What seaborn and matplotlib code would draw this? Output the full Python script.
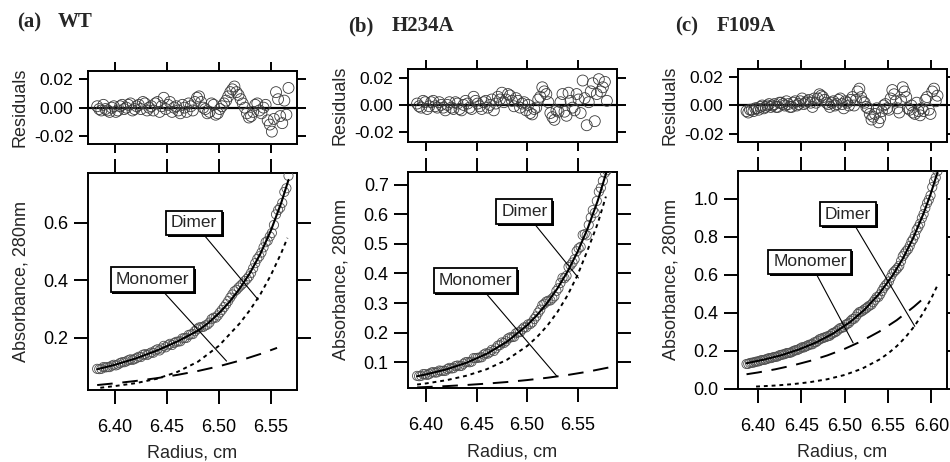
import matplotlib
matplotlib.use("Agg")
import matplotlib.pyplot as plt
import matplotlib.patheffects as pe
from matplotlib.ticker import FormatStrFormatter
import seaborn as sns

# ---- WT ----
wt_radius = [6.383, 6.385, 6.387, 6.389, 6.391, 6.393, 6.395, 6.397, 6.399, 6.401,
             6.403, 6.405, 6.407, 6.409, 6.411, 6.413, 6.415, 6.417, 6.419, 6.421,
             6.423, 6.425, 6.427, 6.429, 6.431, 6.433, 6.435, 6.437, 6.439, 6.441,
             6.443, 6.445, 6.447, 6.449, 6.451, 6.453, 6.455, 6.457, 6.459, 6.461,
             6.463, 6.465, 6.467, 6.469, 6.471, 6.473, 6.475, 6.477, 6.479, 6.481,
             6.483, 6.485, 6.487, 6.489, 6.491, 6.493, 6.495, 6.497, 6.499, 6.501,
             6.503, 6.505, 6.507, 6.509, 6.511, 6.513, 6.515, 6.517, 6.519, 6.521,
             6.523, 6.525, 6.527, 6.529, 6.531, 6.533, 6.535, 6.537, 6.539, 6.541,
             6.543, 6.545, 6.547, 6.549, 6.551, 6.553, 6.555, 6.557, 6.559, 6.561,
             6.563, 6.565, 6.567]
wt_absorb = [0.092, 0.091, 0.092, 0.098, 0.097, 0.098, 0.098, 0.103, 0.106, 0.104,
             0.107, 0.112, 0.115, 0.115, 0.118, 0.122, 0.125, 0.123, 0.126, 0.130,
             0.134, 0.133, 0.141, 0.143, 0.140, 0.145, 0.149, 0.148, 0.156, 0.160,
             0.156, 0.163, 0.172, 0.167, 0.174, 0.179, 0.175, 0.182, 0.186, 0.187,
             0.188, 0.198, 0.199, 0.200, 0.210, 0.212, 0.213, 0.223, 0.230, 0.236,
             0.237, 0.238, 0.243, 0.246, 0.253, 0.265, 0.270, 0.270, 0.278, 0.288,
             0.297, 0.307, 0.317, 0.328, 0.340, 0.351, 0.362, 0.367, 0.375, 0.382,
             0.389, 0.398, 0.405, 0.414, 0.426, 0.442, 0.460, 0.475, 0.484, 0.497,
             0.515, 0.533, 0.538, 0.553, 0.565, 0.593, 0.630, 0.645, 0.653, 0.670,
             0.708, 0.721, 0.764]
wt_resid = [0.001, -0.001, -0.002, 0.002, -0.001, -0.002, -0.003, 0.000, 0.001, -0.003,
            -0.002, 0.001, 0.002, -0.001, 0.000, 0.002, 0.003, -0.002, -0.001, 0.001,
            0.002, -0.001, 0.004, 0.003, -0.002, 0.000, 0.001, -0.002, 0.003, 0.004,
            -0.003, 0.001, 0.007, -0.001, 0.002, 0.004, -0.003, 0.000, 0.001, -0.002,
            -0.004, 0.002, 0.000, -0.003, 0.003, 0.001, -0.002, 0.004, 0.007, 0.008,
            0.004, 0.000, -0.001, -0.004, -0.003, 0.003, 0.002, -0.005, -0.004, -0.001,
            0.001, 0.003, 0.005, 0.008, 0.011, 0.013, 0.015, 0.011, 0.009, 0.006,
            0.003, 0.000, -0.004, -0.007, -0.006, -0.003, 0.002, 0.003, -0.002, -0.004,
            0.000, 0.002, -0.009, -0.012, -0.017, -0.008, 0.011, 0.006, -0.006, -0.011,
            0.005, -0.005, 0.014]
wt_fit_r = [6.383, 6.40, 6.42, 6.44, 6.46, 6.48, 6.49, 6.50, 6.51, 6.52, 6.53, 6.54, 6.55, 6.56, 6.567]
wt_fit_a = [0.0905, 0.106, 0.128, 0.155, 0.187, 0.225, 0.252, 0.285, 0.324, 0.371, 0.426, 0.493, 0.573, 0.670, 0.750]
wt_dimer_r = [6.386, 6.40, 6.42, 6.44, 6.46, 6.48, 6.50, 6.52, 6.53, 6.54, 6.55, 6.56, 6.566]
wt_dimer_a = [0.026, 0.032, 0.042, 0.057, 0.081, 0.117, 0.172, 0.250, 0.297, 0.352, 0.418, 0.495, 0.548]
wt_mono_r = [6.383, 6.40, 6.42, 6.44, 6.46, 6.48, 6.50, 6.52, 6.54, 6.556]
wt_mono_a = [0.0355, 0.0416, 0.0497, 0.0593, 0.0708, 0.0845, 0.1008, 0.1204, 0.1437, 0.165]

# ---- H234A ----
h234a_radius = [6.391, 6.393, 6.395, 6.397, 6.399, 6.401, 6.403, 6.405, 6.407, 6.409,
                6.411, 6.413, 6.415, 6.417, 6.419, 6.421, 6.423, 6.425, 6.427, 6.429,
                6.431, 6.433, 6.435, 6.437, 6.439, 6.441, 6.443, 6.445, 6.447, 6.449,
                6.451, 6.453, 6.455, 6.457, 6.459, 6.461, 6.463, 6.465, 6.467, 6.469,
                6.471, 6.473, 6.475, 6.477, 6.479, 6.481, 6.483, 6.485, 6.487, 6.489,
                6.491, 6.493, 6.495, 6.497, 6.499, 6.501, 6.503, 6.505, 6.507, 6.509,
                6.511, 6.513, 6.515, 6.517, 6.519, 6.521, 6.523, 6.525, 6.527, 6.529,
                6.531, 6.533, 6.535, 6.537, 6.539, 6.541, 6.543, 6.545, 6.547, 6.549,
                6.551, 6.553, 6.555, 6.557, 6.559, 6.561, 6.563, 6.565, 6.567, 6.569,
                6.571, 6.573, 6.575, 6.577, 6.579]
h234a_absorb = [0.054, 0.053, 0.054, 0.060, 0.060, 0.057, 0.060, 0.065, 0.067, 0.065,
                0.066, 0.072, 0.071, 0.071, 0.071, 0.077, 0.081, 0.079, 0.080, 0.087,
                0.089, 0.087, 0.088, 0.095, 0.100, 0.101, 0.100, 0.102, 0.114, 0.114,
                0.115, 0.116, 0.117, 0.126, 0.130, 0.129, 0.134, 0.142, 0.138, 0.147,
                0.156, 0.158, 0.167, 0.165, 0.171, 0.180, 0.184, 0.185, 0.186, 0.198,
                0.201, 0.202, 0.211, 0.218, 0.218, 0.228, 0.229, 0.235, 0.246, 0.255,
                0.268, 0.278, 0.293, 0.298, 0.305, 0.308, 0.309, 0.316, 0.323, 0.341,
                0.350, 0.368, 0.385, 0.384, 0.392, 0.422, 0.428, 0.437, 0.448, 0.475,
                0.485, 0.490, 0.530, 0.533, 0.529, 0.564, 0.589, 0.614, 0.605, 0.645,
                0.676, 0.689, 0.713, 0.740, 0.749]
h234a_resid = [0.001, -0.001, -0.002, 0.003, 0.002, -0.003, -0.001, 0.002, 0.003, -0.001,
               -0.002, 0.002, 0.000, -0.002, -0.004, 0.000, 0.002, -0.002, -0.003, 0.002,
               0.001, -0.003, -0.004, 0.000, 0.003, 0.001, -0.002, -0.003, 0.006, 0.003,
               0.001, -0.001, -0.003, 0.002, 0.003, -0.002, 0.000, 0.004, -0.004, 0.001,
               0.006, 0.004, 0.009, 0.002, 0.004, 0.008, 0.007, 0.003, -0.001, 0.005,
               0.003, -0.002, 0.001, 0.002, -0.004, 0.000, -0.006, -0.007, -0.003, -0.002,
               0.004, 0.006, 0.013, 0.010, 0.008, 0.002, -0.006, -0.009, -0.011, -0.004,
               -0.005, 0.002, 0.008, -0.005, -0.008, 0.009, 0.003, -0.002, -0.004, 0.008,
               0.004, -0.006, 0.018, 0.005, -0.015, 0.002, 0.010, 0.016, -0.012, 0.008,
               0.019, 0.010, 0.013, 0.017, 0.003]
h234a_fit_r = [6.391, 6.40, 6.42, 6.44, 6.46, 6.48, 6.50, 6.51, 6.52, 6.53, 6.54, 6.55, 6.56, 6.57, 6.581]
h234a_fit_a = [0.0527, 0.0590, 0.0759, 0.0984, 0.1286, 0.1694, 0.2250, 0.2601, 0.3012, 0.3496,
               0.4065, 0.4736, 0.5529, 0.6468, 0.7704]
h234a_dimer_r = [6.391, 6.40, 6.42, 6.44, 6.46, 6.48, 6.50, 6.51, 6.52, 6.53, 6.54, 6.55, 6.56, 6.57, 6.578]
h234a_dimer_a = [0.0247, 0.0285, 0.0393, 0.0546, 0.0765, 0.1084, 0.1550, 0.186, 0.2238, 0.2699,
                 0.3262, 0.3952, 0.480, 0.570, 0.660]
h234a_mono_r = [6.391, 6.40, 6.42, 6.44, 6.46, 6.48, 6.50, 6.52, 6.54, 6.56, 6.581]
h234a_mono_a = [0.0150, 0.0163, 0.0194, 0.0232, 0.0278, 0.0332, 0.0398, 0.0476, 0.0569, 0.0681, 0.0824]

# ---- F109A ----
f109a_radius = [6.387, 6.389, 6.391, 6.393, 6.395, 6.397, 6.399, 6.401, 6.403, 6.405,
                6.407, 6.409, 6.411, 6.413, 6.415, 6.417, 6.419, 6.421, 6.423, 6.425,
                6.427, 6.429, 6.431, 6.433, 6.435, 6.437, 6.439, 6.441, 6.443, 6.445,
                6.447, 6.449, 6.451, 6.453, 6.455, 6.457, 6.459, 6.461, 6.463, 6.465,
                6.467, 6.469, 6.471, 6.473, 6.475, 6.477, 6.479, 6.481, 6.483, 6.485,
                6.487, 6.489, 6.491, 6.493, 6.495, 6.497, 6.499, 6.501, 6.503, 6.505,
                6.507, 6.509, 6.511, 6.513, 6.515, 6.517, 6.519, 6.521, 6.523, 6.525,
                6.527, 6.529, 6.531, 6.533, 6.535, 6.537, 6.539, 6.541, 6.543, 6.545,
                6.547, 6.549, 6.551, 6.553, 6.555, 6.557, 6.559, 6.561, 6.563, 6.565,
                6.567, 6.569, 6.571, 6.573, 6.575, 6.577, 6.579, 6.581, 6.583, 6.585,
                6.587, 6.589, 6.591, 6.593, 6.595, 6.597, 6.599, 6.601, 6.603, 6.605,
                6.607]
f109a_absorb = [0.129, 0.130, 0.134, 0.136, 0.136, 0.140, 0.142, 0.143, 0.147, 0.150,
                0.150, 0.153, 0.156, 0.160, 0.160, 0.163, 0.166, 0.167, 0.169, 0.175,
                0.177, 0.179, 0.181, 0.186, 0.187, 0.188, 0.191, 0.197, 0.201, 0.202,
                0.206, 0.211, 0.217, 0.216, 0.221, 0.225, 0.230, 0.232, 0.233, 0.243,
                0.244, 0.251, 0.259, 0.262, 0.266, 0.269, 0.272, 0.276, 0.278, 0.287,
                0.293, 0.296, 0.302, 0.311, 0.318, 0.320, 0.323, 0.335, 0.340, 0.345,
                0.356, 0.365, 0.367, 0.378, 0.392, 0.402, 0.404, 0.410, 0.417, 0.423,
                0.431, 0.437, 0.442, 0.455, 0.467, 0.481, 0.482, 0.496, 0.513, 0.529,
                0.542, 0.551, 0.563, 0.584, 0.604, 0.615, 0.624, 0.634, 0.646, 0.671,
                0.696, 0.710, 0.723, 0.733, 0.750, 0.773, 0.787, 0.806, 0.835, 0.850,
                0.868, 0.897, 0.918, 0.950, 0.976, 0.993, 1.016, 1.060, 1.090, 1.110,
                1.144]
f109a_resid = [-0.004, -0.005, -0.003, -0.003, -0.004, -0.002, -0.002, -0.003, -0.001, 0.000,
               -0.002, -0.001, 0.000, 0.001, -0.001, 0.000, 0.001, -0.001, -0.001, 0.002,
               0.002, 0.001, 0.000, 0.003, 0.001, -0.001, -0.001, 0.002, 0.003, 0.000,
               0.001, 0.003, 0.005, 0.001, 0.002, 0.003, 0.004, 0.002, -0.001, 0.005,
               0.002, 0.005, 0.008, 0.007, 0.006, 0.004, 0.002, 0.001, -0.001, 0.002,
               0.003, 0.000, 0.001, 0.004, 0.005, 0.001, -0.002, 0.003, 0.002, 0.000,
               0.004, 0.006, 0.000, 0.004, 0.010, 0.012, 0.006, 0.003, 0.002, -0.001,
               -0.002, -0.006, -0.010, -0.008, -0.006, -0.002, -0.012, -0.009, -0.004, 0.000,
               0.001, -0.002, -0.003, 0.005, 0.011, 0.008, 0.003, -0.002, -0.005, 0.004,
               0.013, 0.010, 0.006, -0.002, -0.003, 0.000, -0.005, -0.006, 0.002, -0.004,
               -0.007, -0.002, -0.004, 0.004, 0.006, -0.003, -0.006, 0.010, 0.012, 0.003,
               0.007]
f109a_fit_r = [6.387, 6.407, 6.427, 6.447, 6.467, 6.487, 6.507, 6.523, 6.539, 6.555, 6.567, 6.579, 6.591, 6.599, 6.607]
f109a_fit_a = [0.133, 0.152, 0.175, 0.205, 0.242, 0.290, 0.352, 0.415, 0.494, 0.593, 0.683, 0.792, 0.922, 1.022, 1.137]
f109a_dimer_r = [6.398, 6.42, 6.44, 6.46, 6.48, 6.50, 6.52, 6.54, 6.55, 6.56, 6.57, 6.58, 6.59, 6.60, 6.607]
f109a_dimer_a = [0.0102, 0.0156, 0.0228, 0.0333, 0.0487, 0.0712, 0.1041, 0.1522, 0.184, 0.2225,
                 0.2691, 0.3254, 0.3934, 0.4758, 0.5434]
f109a_mono_r = [6.387, 6.40, 6.42, 6.44, 6.46, 6.48, 6.50, 6.52, 6.54, 6.56, 6.58, 6.592]
f109a_mono_a = [0.075, 0.0842, 0.1010, 0.1211, 0.1451, 0.1740, 0.2087, 0.2501, 0.2999, 0.3595, 0.4311, 0.4789]

W, H = 950, 462

sns.set_style("ticks")
plt.rcParams["font.family"] = ["Liberation Sans", "DejaVu Sans"]
plt.rcParams["axes.unicode_minus"] = False

fig = plt.figure(figsize=(W / 100, H / 100), dpi=100)


def px_box(l, t, r, b):
    return [l / W, 1 - b / H, (r - l) / W, (b - t) / H]


def style_axes(ax, tick_len, tick_size):
    for s in ax.spines.values():
        s.set_visible(True)
        s.set_linewidth(1.4)
        s.set_color("k")
    ax.tick_params(direction="out", length=tick_len, width=1.4, colors="k",
                   top=True, right=True, bottom=True, left=True,
                   labelsize=tick_size, pad=3.5)


def label_box(ax, text, center, end):
    t = ax.annotate(text, xy=end, xytext=center, ha="center", va="center",
                    fontsize=12.5, zorder=6,
                    bbox=dict(boxstyle="square,pad=0.28", fc="white", ec="k", lw=1.3),
                    arrowprops=dict(arrowstyle="-", color="k", lw=0.8,
                                    shrinkA=0, shrinkB=0))
    t.get_bbox_patch().set_path_effects(
        [pe.SimplePatchShadow(offset=(1.3, -1.3), shadow_rgbFace="k", alpha=1), pe.Normal()])


def draw_panel(res_px, abs_px, radius, absorb, resid, fit, dimer, mono,
               xlim, ylim, rlim, xticks, yticks, dimer_lbl, mono_lbl, lab_x):
    # residuals
    axr = fig.add_axes(px_box(*res_px))
    sns.scatterplot(x=radius, y=resid, ax=axr, marker="o", s=62,
                    facecolor="none", edgecolor="#3a3a3a", linewidth=0.6, zorder=3)
    axr.axhline(0, color="k", lw=1.6, zorder=2)
    axr.set_xlim(*xlim)
    axr.set_ylim(*rlim)
    axr.set_xticks(xticks)
    axr.set_yticks([-0.02, 0.0, 0.02])
    axr.yaxis.set_major_formatter(FormatStrFormatter("%.2f"))
    style_axes(axr, 6.5, 12.5)
    axr.tick_params(axis="x", labelbottom=False)
    axr.set_xlabel("")
    axr.set_ylabel("Residuals", fontsize=13)
    axr.yaxis.set_label_coords((lab_x - res_px[0]) / (res_px[2] - res_px[0]), 0.5)

    # absorbance
    axa = fig.add_axes(px_box(*abs_px))
    sns.scatterplot(x=radius, y=absorb, ax=axa, marker="o", s=44,
                    facecolor="none", edgecolor="#505050", linewidth=0.6, zorder=3)
    sns.lineplot(x=fit[0], y=fit[1], ax=axa, color="k", lw=1.5, zorder=4)
    sns.lineplot(x=dimer[0], y=dimer[1], ax=axa, color="k", lw=1.4,
                 linestyle=(0, (2, 2)), zorder=4)
    sns.lineplot(x=mono[0], y=mono[1], ax=axa, color="k", lw=1.4,
                 linestyle=(0, (8, 5)), zorder=4)
    axa.set_xlim(*xlim)
    axa.set_ylim(*ylim)
    axa.set_xticks(xticks)
    axa.set_yticks(yticks)
    axa.xaxis.set_major_formatter(FormatStrFormatter("%.2f"))
    axa.yaxis.set_major_formatter(FormatStrFormatter("%.1f"))
    style_axes(axa, 10, 13)
    axa.tick_params(axis="x", pad=11)
    axa.set_xlabel("Radius, cm", fontsize=13, labelpad=6.5)
    axa.set_ylabel("Absorbance, 280nm", fontsize=13)
    axa.yaxis.set_label_coords((lab_x + 1 - abs_px[0]) / (abs_px[2] - abs_px[0]), 0.5)

    label_box(axa, "Dimer", *dimer_lbl)
    label_box(axa, "Monomer", *mono_lbl)


draw_panel((87.5, 71, 296.5, 144.3), (87.5, 173, 296.5, 389.5),
           wt_radius, wt_absorb, wt_resid,
           (wt_fit_r, wt_fit_a), (wt_dimer_r, wt_dimer_a), (wt_mono_r, wt_mono_a),
           (6.3737, 6.5747), (0.020, 0.774), (-0.026, 0.026),
           [6.40, 6.45, 6.50, 6.55], [0.2, 0.4, 0.6],
           ((6.4761, 0.600), (6.5378, 0.333)), ((6.436, 0.403), (6.5074, 0.119)), 29)

draw_panel((407.5, 69, 616.5, 141.5), (407.5, 172, 616.5, 388),
           h234a_radius, h234a_absorb, h234a_resid,
           (h234a_fit_r, h234a_fit_a), (h234a_dimer_r, h234a_dimer_a), (h234a_mono_r, h234a_mono_a),
           (6.3815, 6.5885), (0.013, 0.743), (-0.027, 0.0265),
           [6.40, 6.45, 6.50, 6.55], [0.1, 0.2, 0.3, 0.4, 0.5, 0.6, 0.7],
           ((6.4972, 0.610), (6.5508, 0.385)), ((6.4485, 0.376), (6.5294, 0.053)), 349)

draw_panel((737.5, 69, 946.5, 142), (737.5, 171, 946.5, 388.5),
           f109a_radius, f109a_absorb, f109a_resid,
           (f109a_fit_r, f109a_fit_a), (f109a_dimer_r, f109a_dimer_a), (f109a_mono_r, f109a_mono_a),
           (6.3766, 6.6174), (0.0, 1.145), (-0.026, 0.026),
           [6.40, 6.45, 6.50, 6.55, 6.60], [0.0, 0.2, 0.4, 0.6, 0.8, 1.0],
           ((6.504, 0.918), (6.5809, 0.327)), ((6.460, 0.666), (6.5098, 0.240)), 679)

# panel titles
title_kw = dict(fontsize=15, fontweight="bold", family=["Liberation Serif", "DejaVu Serif"],
                va="baseline", ha="left")
for tag, name, x_tag, x_name, base in [("(a)", "WT", 17, 58, 27),
                                       ("(b)", "H234A", 348, 392, 31),
                                       ("(c)", "F109A", 675, 717, 31)]:
    fig.text(x_tag / W, 1 - base / H, tag, **title_kw)
    fig.text(x_name / W, 1 - base / H, name, **title_kw)

fig.savefig("out.png", dpi=100)
